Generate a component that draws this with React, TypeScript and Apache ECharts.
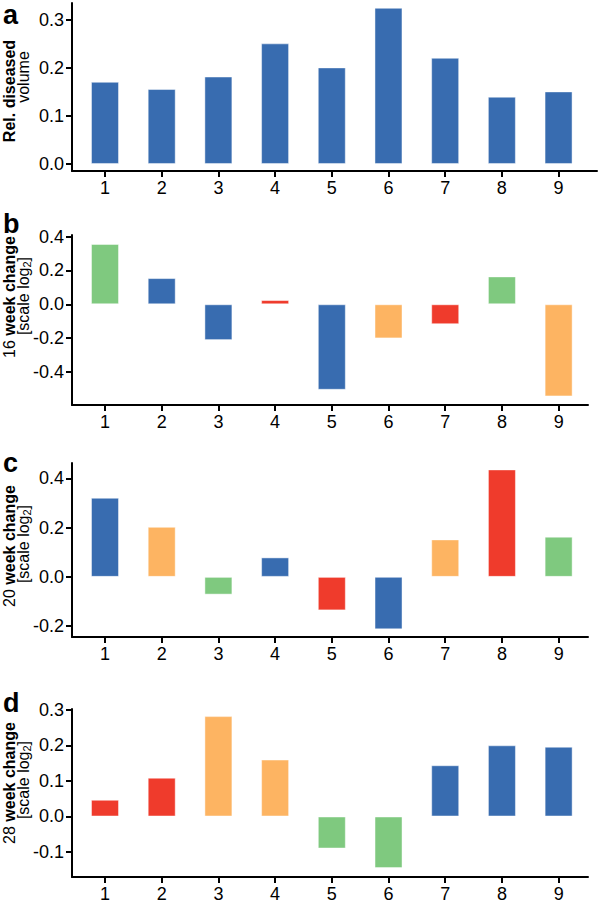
import { useEffect, useRef } from "react";
import * as echarts from "echarts";

const categories = [1, 2, 3, 4, 5, 6, 7, 8, 9];

const relVolume = [0.171, 0.156, 0.182, 0.251, 0.201, 0.325, 0.221, 0.14, 0.151];
const relVolumeGroups = ["blue", "blue", "blue", "blue", "blue", "blue", "blue", "blue", "blue"];

const change16 = [0.357, 0.155, -0.212, 0.025, -0.506, -0.202, -0.118, 0.165, -0.545];
const change16Groups = ["green", "blue", "blue", "red", "blue", "orange", "red", "green", "orange"];

const change20 = [0.321, 0.203, -0.072, 0.079, -0.136, -0.213, 0.152, 0.436, 0.163];
const change20Groups = ["blue", "orange", "green", "blue", "red", "blue", "orange", "red", "green"];

const change28 = [0.047, 0.109, 0.282, 0.16, -0.09, -0.145, 0.144, 0.2, 0.196];
const change28Groups = ["red", "red", "orange", "orange", "green", "green", "blue", "blue", "blue"];

const ticksA = [0, 0.1, 0.2, 0.3];
const ticksB = [-0.4, -0.2, 0, 0.2, 0.4];
const ticksC = [-0.2, 0, 0.2, 0.4];
const ticksD = [-0.1, 0, 0.1, 0.2, 0.3];

const palette: Record<string, string> = {
  blue: "#386cb0",
  green: "#7fc97f",
  orange: "#fdb462",
  red: "#ef3b2c",
};

const FONT = "Liberation Sans, Arial, Helvetica, sans-serif";

const panels = [
  {
    letter: "a", letterY: 15,
    values: relVolume, groups: relVolumeGroups, ticks: ticksA,
    yMin: -0.0146, yMax: 0.335, top: 3, height: 168, right: 3, xMax: 9.678,
    line1: "{b|Rel. diseased}", line1Y: 91, line2: "{r|volume}", line2Y: 77,
  },
  {
    letter: "b", letterY: 224,
    values: change16, groups: change16Groups, ticks: ticksB,
    yMin: -0.596, yMax: 0.41, top: 235, height: 170, right: 12, xMax: 9.518,
    line1: "{r|16 }{b|week change}", line1Y: 297, line2: "{r|[scale log}{s|2}{r|]}", line2Y: 296,
  },
  {
    letter: "c", letterY: 463,
    values: change20, groups: change20Groups, ticks: ticksC,
    yMin: -0.244, yMax: 0.462, top: 463, height: 174, right: 12, xMax: 9.518,
    line1: "{r|20 }{b|week change}", line1Y: 546, line2: "{r|[scale log}{s|2}{r|]}", line2Y: 544,
  },
  {
    letter: "d", letterY: 703,
    values: change28, groups: change28Groups, ticks: ticksD,
    yMin: -0.17, yMax: 0.302, top: 709, height: 172, right: 12, xMax: 9.518,
    line1: "{r|28 }{b|week change}", line1Y: 783, line2: "{r|[scale log}{s|2}{r|]}", line2Y: 780,
  },
];

const rich = {
  b: { fontSize: 16, fontWeight: "bold", fontFamily: FONT, fill: "#000", lineHeight: 18 },
  r: { fontSize: 16, fontWeight: "normal", fontFamily: FONT, fill: "#000", lineHeight: 18 },
  s: { fontSize: 11, fontWeight: "normal", fontFamily: FONT, fill: "#000", lineHeight: 18, verticalAlign: "bottom" },
};

export default function App() {
  const ref = useRef<HTMLDivElement>(null);

  useEffect(() => {
    if (!ref.current) return;
    const chart = echarts.init(ref.current, undefined, { renderer: "svg" });

    const grid = panels.map((p) => ({ left: 72, right: p.right, top: p.top, height: p.height }));

    const xAxis = panels.map((p, i) => ({
      type: "value",
      gridIndex: i,
      min: 0.418,
      max: p.xMax,
      axisLine: { show: true, onZero: false, lineStyle: { color: "#000", width: 2 } },
      axisTick: { show: true, customValues: categories, length: 6, lineStyle: { color: "#000", width: 2 } },
      axisLabel: {
        show: true,
        customValues: categories,
        formatter: (v: number) => String(v),
        fontSize: 18,
        color: "#000",
        fontFamily: FONT,
        margin: 8,
      },
      splitLine: { show: false },
    }));

    const yAxis = panels.map((p, i) => ({
      type: "value",
      gridIndex: i,
      min: p.yMin,
      max: p.yMax,
      axisLine: { show: true, onZero: false, lineStyle: { color: "#000", width: 2 } },
      axisTick: { show: true, customValues: p.ticks, length: 6, lineStyle: { color: "#000", width: 2 } },
      axisLabel: {
        show: true,
        customValues: p.ticks,
        formatter: (v: number) => v.toFixed(1),
        fontSize: 18,
        color: "#000",
        fontFamily: FONT,
        margin: 8,
      },
      splitLine: { show: false },
    }));

    const series = panels.map((p, i) => ({
      type: "bar",
      xAxisIndex: i,
      yAxisIndex: i,
      barWidth: 28,
      data: p.values.map((v, j) => ({
        value: [categories[j], v],
        itemStyle: {
          color: palette[p.groups[j]],
          borderColor: "rgba(255,255,255,0.45)",
          borderWidth: 1,
        },
      })),
    }));

    const graphic: any[] = [];
    panels.forEach((p) => {
      graphic.push({
        type: "text",
        x: 3,
        y: p.letterY,
        style: {
          text: p.letter,
          fontSize: 27,
          fontWeight: "bold",
          fontFamily: FONT,
          fill: "#000",
          textAlign: "left",
          textVerticalAlign: "middle",
        },
      });
      graphic.push({
        type: "text",
        x: 9.5,
        y: p.line1Y,
        rotation: Math.PI / 2,
        style: {
          text: p.line1,
          rich,
          textAlign: "center",
          textVerticalAlign: "middle",
        },
      });
      graphic.push({
        type: "text",
        x: 23.5,
        y: p.line2Y,
        rotation: Math.PI / 2,
        style: {
          text: p.line2,
          rich,
          textAlign: "center",
          textVerticalAlign: "middle",
        },
      });
    });

    chart.setOption({
      animation: false,
      backgroundColor: "#fff",
      grid,
      xAxis,
      yAxis,
      series,
      graphic,
    } as any);

    return () => chart.dispose();
  }, []);

  return (
    <div
      ref={ref}
      style={{ position: "absolute", left: 0, top: 0, width: 600, height: 903, background: "#fff" }}
    />
  );
}
